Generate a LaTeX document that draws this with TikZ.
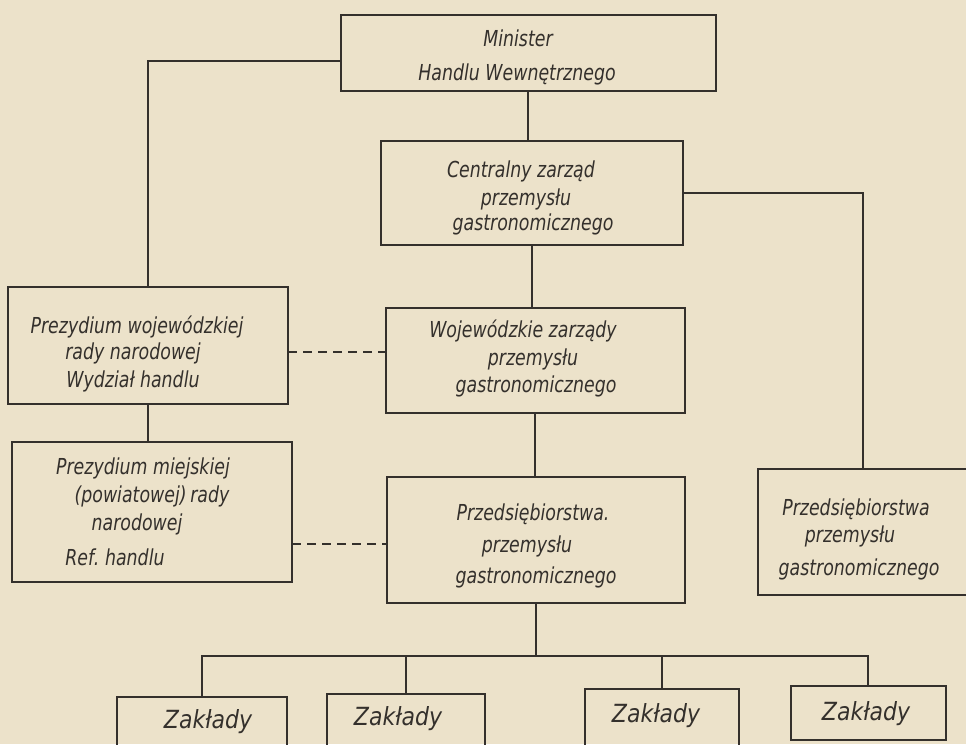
\documentclass[tikz,border=0pt]{standalone}
\usepackage{fontspec}
\newfontfamily\lett{DejaVu Sans}[FakeStretch=0.79]
\newfontfamily\letb{DejaVu Sans}[FakeStretch=0.88]
\definecolor{paper}{RGB}{236,226,202}
\definecolor{ink}{RGB}{52,48,44}

\begin{document}
\begin{tikzpicture}[x=1pt,y=-1pt,
  box/.style={draw=ink, line width=2pt, inner sep=0pt, outer sep=0pt},
  link/.style={draw=ink, line width=1.6pt},
  dlink/.style={link, dash pattern=on 9pt off 6pt},
  lbl/.style={anchor=base, inner sep=0pt, text=ink,
    font=\lett\itshape\fontsize{22}{27}\selectfont},
  lblz/.style={lbl, font=\letb\itshape\fontsize{25}{30}\selectfont}]
\fill[paper] (0,0) rectangle (966,744);
\useasboundingbox (0,0) rectangle (966,744);
\clip (0,0) rectangle (966,744);

% boxes
\node[box, minimum width=375pt, minimum height=76pt]  (min)  at (528,53) {};
\node[box, minimum width=302pt, minimum height=104pt] (cen)  at (532,193) {};
\node[box, minimum width=299pt, minimum height=105pt] (woj)  at (535,360.5) {};
\node[box, minimum width=280pt, minimum height=117pt] (pwoj) at (148,345.5) {};
\node[box, minimum width=280pt, minimum height=140pt] (pmie) at (152,512) {};
\node[box, minimum width=298pt, minimum height=126pt] (prm)  at (536,540) {};
\node[box, minimum width=210pt, minimum height=126pt] (prr)  at (863,532) {};
\node[box, minimum width=170pt, minimum height=63pt]  (z1)   at (202,728.5) {};
\node[box, minimum width=158pt, minimum height=66pt]  (z2)   at (406,727) {};
\node[box, minimum width=154pt, minimum height=71pt]  (z3)   at (662,724.5) {};
\node[box, minimum width=155pt, minimum height=54pt]  (z4)   at (868,713) {};

% texts
\node[lbl] (tmin1) at (518,46) {Minister};
\node[lbl] (tmin2) at (517,80) {Handlu Wewnętrznego};

\node[lbl] (tcen1) at (521,177) {Centralny zarząd};
\node[lbl] (tcen2) at (526,205) {przemysłu};
\node[lbl] (tcen3) at (533,230) {gastronomicznego};

\node[lbl] (twoj1) at (523,337) {Wojewódzkie zarządy};
\node[lbl] (twoj2) at (533,365) {przemysłu};
\node[lbl] (twoj3) at (536,392) {gastronomicznego};

\node[lbl] (tpw1) at (137,333) {Prezydium wojewódzkiej};
\node[lbl] (tpw2) at (133,359) {rady narodowej};
\node[lbl] (tpw3) at (133,387) {Wydział handlu};

\node[lbl] (tpm1) at (143,474) {Prezydium miejskiej};
\node[lbl] (tpm2) at (152,502) {(powiatowej)\,rady};
\node[lbl] (tpm3) at (137,530) {narodowej};
\node[lbl] (tpm4) at (115,565) {Ref.\ handlu};

\node[lbl] (tpr1) at (533,520) {Przedsiębiorstwa.};
\node[lbl] (tpr2) at (527,552) {przemysłu};
\node[lbl] (tpr3) at (536,583) {gastronomicznego};

\node[lbl] (trr1) at (856,515) {Przedsiębiorstwa};
\node[lbl] (trr2) at (850,542) {przemysłu};
\node[lbl] (trr3) at (859,575) {gastronomicznego};

\node[lblz] (tz1) at (208,728) {Zakłady};
\node[lblz] (tz2) at (398,725) {Zakłady};
\node[lblz] (tz3) at (656,722) {Zakłady};
\node[lblz] (tz4) at (866,720) {Zakłady};

% connectors
\draw[link] ([yshift=-8pt]min.west) -| (pwoj.north);
\draw[link] (min.south) -- (min.south |- cen.north);
\draw[link] (cen.east) -| (prr.north);
\draw[link] (cen.south) -- (cen.south |- woj.north);
\draw[link] (woj.south) -- (woj.south |- prm.north);
\draw[link] (pwoj.south) -- (pwoj.south |- pmie.north);
\draw[dlink] ([yshift=-6.5pt]pwoj.east) -- ([yshift=-6.5pt]pwoj.east -| woj.west);
\draw[dlink] ([yshift=-32pt]pmie.east) -- ([yshift=-32pt]pmie.east -| prm.west);

\coordinate (bus) at (537,656);
\draw[link] (prm.south) -- (prm.south |- bus);
\draw[link] (z1.north) -- (z1.north |- bus) -- (z4.north |- bus) -- (z4.north);
\draw[link] (z2.north) -- (z2.north |- bus);
\draw[link] (z3.north) -- (z3.north |- bus);
\end{tikzpicture}
\end{document}
